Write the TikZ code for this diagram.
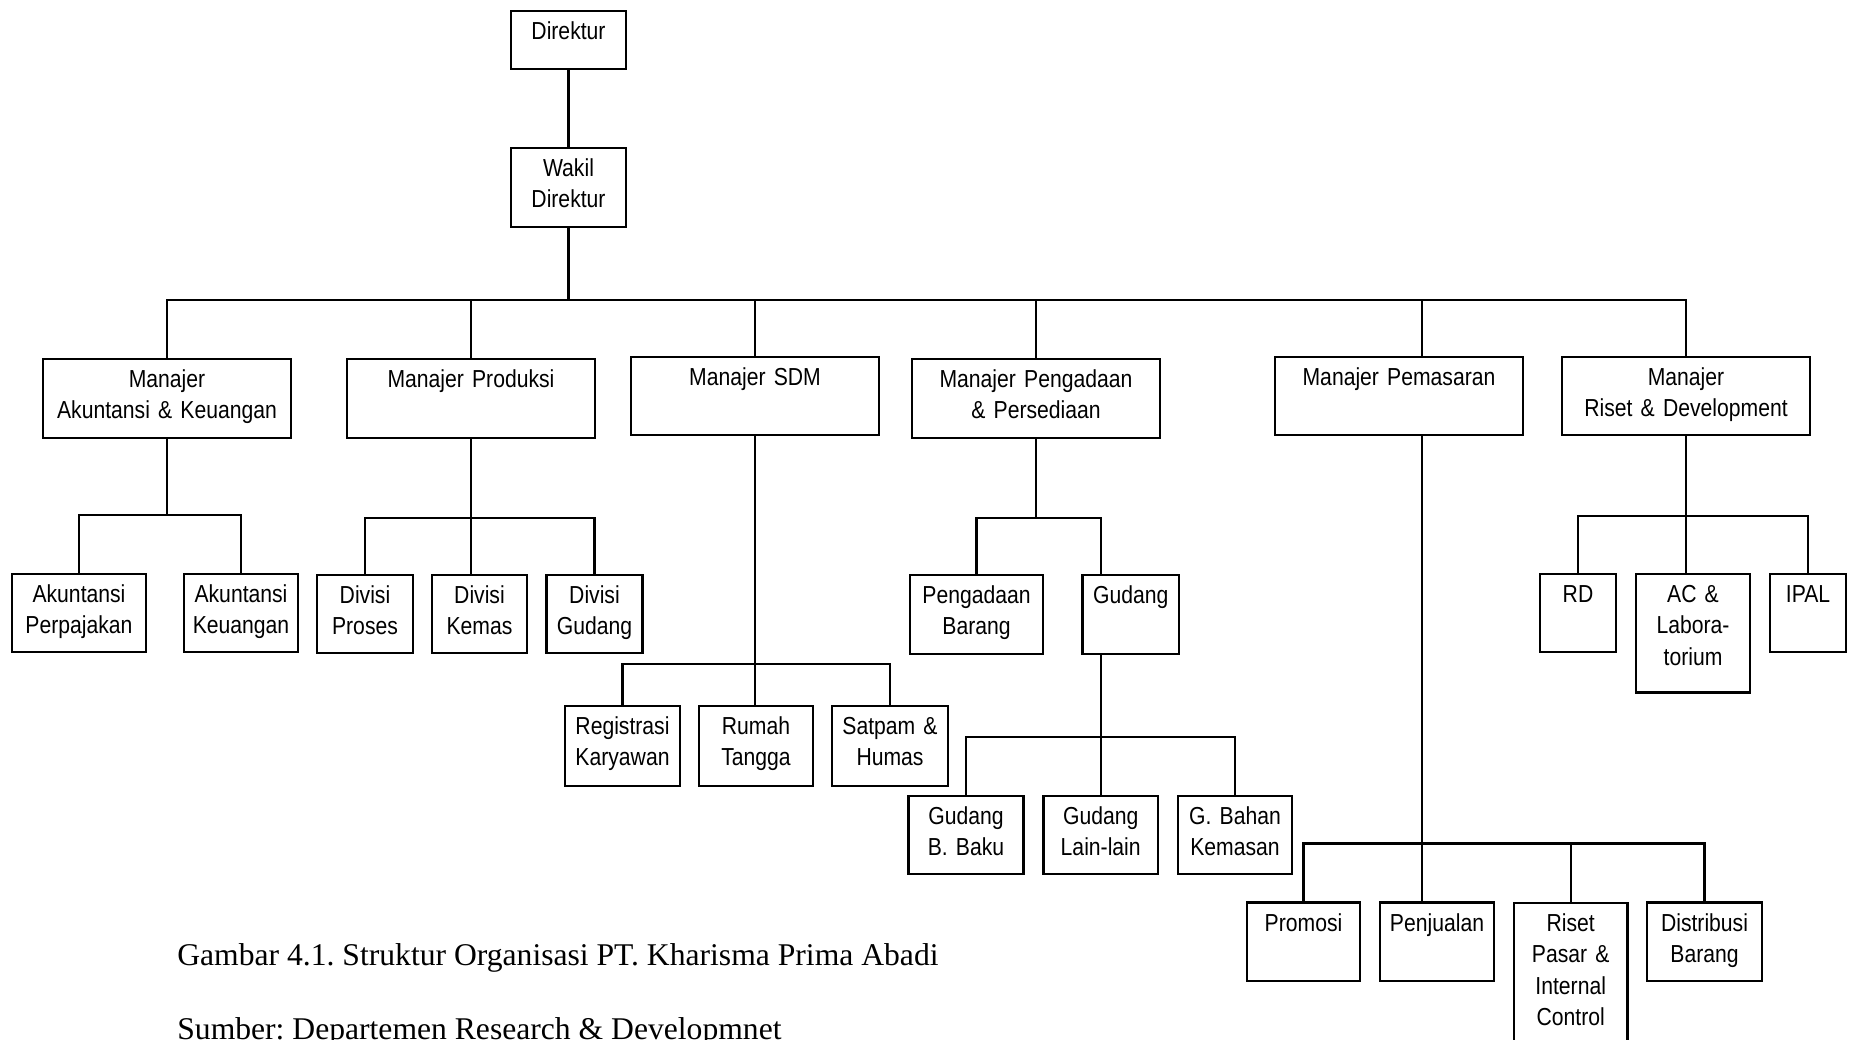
\documentclass[tikz,border=0pt]{standalone}
\usepackage{fontspec}
\setmainfont{Liberation Serif}
\newfontfamily\orgsans[FakeStretch=0.86, WordSpace=0.8]{Liberation Sans}
\frenchspacing

\begin{document}
\begin{tikzpicture}[
    x=0.02cm, y=-0.02cm,
    unit/.style={draw, line width=1.2pt, inner sep=0pt, align=center,
                 font=\orgsans\fontsize{14}{17.9}\selectfont, text height=0.57cm},
    link/.style={line width=1.2pt},
    caption/.style={font=\fontsize{18}{22}\selectfont, inner sep=0pt, anchor=base west},
]

    \useasboundingbox (0,0) rectangle (1855,1039);
    \clip (0,0) rectangle (1855,1039);

    % ============================================================
    %  TOP: DIREKTUR AND WAKIL
    % ============================================================
    \node[unit, text width=2.30cm, text depth=0.59cm] (dir)  at (568.5,40)    {Direktur};
    \node[unit, text width=2.30cm, text depth=1.01cm] (wdir) at (568.5,187.5) {Wakil\\Direktur};

    % ============================================================
    %  MANAJER ROW
    % ============================================================
    \node[unit, text width=4.96cm, text depth=1.01cm] (makt)  at (167,398.5)  {Manajer\\Akuntansi \& Keuangan};
    \node[unit, text width=4.96cm, text depth=1.01cm] (mprod) at (471,398.5)  {Manajer Produksi};
    \node[unit, text width=4.97cm, text depth=0.99cm] (msdm)  at (755,396)    {Manajer SDM};
    \node[unit, text width=4.97cm, text depth=1.01cm] (mpgd)  at (1036,398.5) {Manajer Pengadaan\\\& Persediaan};
    \node[unit, text width=4.95cm, text depth=0.99cm] (mpms)  at (1399,396)   {Manajer Pemasaran};
    \node[unit, text width=4.97cm, text depth=0.99cm] (mrnd)  at (1686,396)   {Manajer\\Riset \& Development};

    % ============================================================
    %  UNITS UNDER EACH MANAJER
    % ============================================================
    % Akuntansi & Keuangan
    \node[unit, text width=2.67cm, text depth=0.99cm] (aktpjk) at (79,613)  {Akuntansi\\Perpajakan};
    \node[unit, text width=2.27cm, text depth=0.99cm] (aktkeu) at (241,613) {Akuntansi\\Keuangan};
    % Produksi
    \node[unit, text width=1.92cm, text depth=0.99cm] (dproses) at (365,614)   {Divisi\\Proses};
    \node[unit, text width=1.90cm, text depth=0.99cm] (dkemas)  at (479.5,614) {Divisi\\Kemas};
    \node[unit, text width=1.92cm, text depth=0.99cm] (dgudang) at (594.5,614) {Divisi\\Gudang};
    % SDM
    \node[unit, text width=2.30cm, text depth=1.03cm] (preg)   at (622.5,745.7) {Registrasi\\Karyawan};
    \node[unit, text width=2.28cm, text depth=1.03cm] (rumah)  at (756,745.7)   {Rumah\\Tangga};
    \node[unit, text width=2.32cm, text depth=1.03cm] (satpam) at (890,745.7)   {Satpam \&\\Humas};
    % Pengadaan & Persediaan
    \node[unit, text width=2.67cm, text depth=1.01cm] (pbrg) at (976.5,614.5)  {Pengadaan\\Barang};
    \node[unit, text width=1.93cm, text depth=1.01cm] (gud)  at (1130.7,614.5) {Gudang};
    \node[unit, text width=2.30cm, text depth=0.99cm] (gbaku)  at (966,835)    {Gudang\\B. Baku};
    \node[unit, text width=2.29cm, text depth=0.99cm] (glain)  at (1100.7,835) {Gudang\\Lain-lain};
    \node[unit, text width=2.27cm, text depth=0.99cm] (gbahan) at (1235,835)   {G. Bahan\\Kemasan};
    % Pemasaran
    \node[unit, text width=2.26cm, text depth=1.00cm] (promosi)    at (1303.5,941.75) {Promosi};
    \node[unit, text width=2.27cm, text depth=1.00cm] (penjualan)  at (1437,941.75)   {Penjualan};
    \node[unit, text width=2.27cm, text depth=2.78cm] (riset)      at (1570.7,986.5)  {Riset\\Pasar \&\\Internal\\Control};
    \node[unit, text width=2.30cm, text depth=1.00cm] (distribusi) at (1704.5,941.75) {Distribusi\\Barang};
    % Riset & Development
    \node[unit, text width=1.52cm, text depth=0.99cm] (rd)   at (1578,613)    {RD};
    \node[unit, text width=2.28cm, text depth=1.80cm] (ac)   at (1693,633.25) {AC \&\\Labora-\\torium};
    \node[unit, text width=1.53cm, text depth=0.99cm] (ipal) at (1808,613)    {IPAL};

    % ============================================================
    %  LINES
    % ============================================================
    \coordinate (topbus)  at (568.5,300);
    \coordinate (aktbus)  at (167,515);
    \coordinate (prodbus) at (471,518);
    \coordinate (sdmbus)  at (755,664);
    \coordinate (pgdbus)  at (1036,518);
    \coordinate (gudbus)  at (1100.7,737);
    \coordinate (pemline) at (1422,843.5);
    \coordinate (rndbus)  at (1686,516);

    \draw[link] (dir) -- (wdir);
    \draw[link] (wdir.south) -- (topbus);
    \draw[link] (makt.north) |- (topbus) -| (mrnd.north);
    \draw[link] (mprod.north) -- (mprod.north |- topbus);
    \draw[link] (msdm.north) -- (msdm.north |- topbus);
    \draw[link] (mpgd.north) -- (mpgd.north |- topbus);
    \draw[link] (mpms.north -| pemline) -- (pemline |- topbus);

    % akuntansi
    \draw[link] (makt) -- (aktbus);
    \draw[link] (aktpjk.north) |- (aktbus) -| (aktkeu.north);
    % produksi
    \draw[link] (mprod.south) -- (mprod.south |- dkemas.north);
    \draw[link] (dproses.north) |- (prodbus) -| (dgudang.north);
    % sdm
    \draw[link] (msdm.south) -- (msdm.south |- rumah.north);
    \draw[link] (preg.north) |- (sdmbus) -| (satpam.north);
    % pengadaan, gudang
    \draw[link] (mpgd.south) -- (pgdbus);
    \draw[link] (pbrg.north) |- (pgdbus) -| (gud.north -| glain.north);
    \draw[link] (gud.south -| glain.north) -- (glain.north);
    \draw[link] (gbaku.north) |- (gudbus) -| (gbahan.north);
    % pemasaran
    \draw[link] (mpms.south -| pemline) -- (penjualan.north -| pemline);
    \draw[link] (promosi.north) |- (pemline) -| (distribusi.north);
    \draw[link] (riset.north) -- (riset.north |- pemline);
    % riset & development
    \draw[link] (mrnd.south) -- (mrnd.south |- ac.north);
    \draw[link] (rd.north) |- (rndbus) -| (ipal.north);

    % ============================================================
    %  CAPTION
    % ============================================================
    \node[caption] (gambar) at (177,965)  {Gambar 4.1. Struktur Organisasi PT. Kharisma Prima Abadi};
    \node[caption] (sumber) at (177,1039) {Sumber: Departemen Research \& Developmnet};

\end{tikzpicture}
\end{document}
